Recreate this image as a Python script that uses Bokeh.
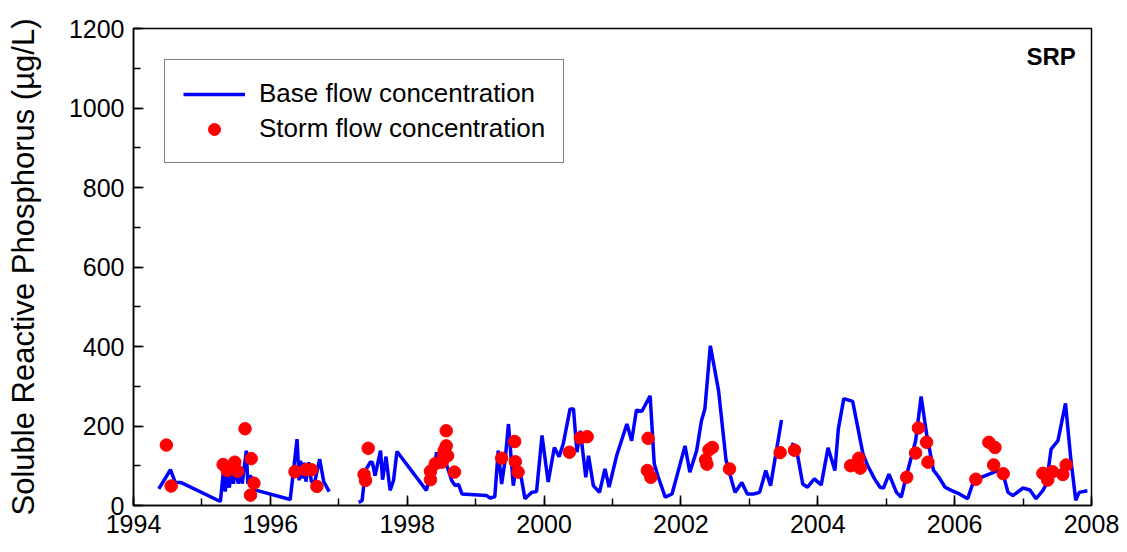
import numpy as np
from bokeh.plotting import figure
from bokeh.models import Range1d, SingleIntervalTicker, Legend, LegendItem, Label, ColumnDataSource
from bokeh.embed import file_html
from bokeh.resources import INLINE

nan = float("nan")

# Base flow concentration (decimal year, µg/L); NaN marks gaps in the record
base_year = [
    1994.37, 1994.54, 1994.61, 1994.69, 1995.27, 1995.31, 1995.34, 1995.37, 1995.40, 1995.43,
    1995.46, 1995.50, 1995.53, 1995.56, 1995.59, 1995.62, 1995.65, 1995.67, 1995.70, 1995.73,
    1995.76, 1995.80, 1996.29, 1996.39, 1996.42, 1996.44, 1996.47, 1996.49, 1996.52, 1996.56,
    1996.60, 1996.65, 1996.72, 1996.78, 1996.86,
    1997.05,
    1997.29, 1997.34, 1997.39, 1997.46, 1997.49, 1997.53, 1997.61, 1997.64, 1997.69, 1997.75,
    1997.80, 1997.85, 1998.28, 1998.31, 1998.39, 1998.43, 1998.46, 1998.52, 1998.58, 1998.65,
    1998.70, 1998.75, 1998.80, 1999.16, 1999.21, 1999.28, 1999.33, 1999.38, 1999.43, 1999.48,
    1999.55, 1999.60, 1999.67, 1999.72, 1999.77, 1999.82, 1999.89, 1999.97, 2000.06, 2000.15,
    2000.22, 2000.28, 2000.38, 2000.43, 2000.48, 2000.53, 2000.61, 2000.65, 2000.72, 2000.81,
    2000.89, 2000.95, 2001.06, 2001.21, 2001.28, 2001.35, 2001.43, 2001.55, 2001.61, 2001.67,
    2001.77, 2001.87, 2002.06, 2002.13, 2002.23, 2002.30, 2002.35, 2002.43, 2002.55, 2002.66,
    2002.79, 2002.89, 2002.97, 2003.06, 2003.15, 2003.24, 2003.31, 2003.47,
    2003.54,
    2003.61, 2003.68, 2003.78, 2003.85, 2003.95, 2004.05, 2004.15, 2004.25, 2004.30, 2004.38,
    2004.51, 2004.66, 2004.73, 2004.83, 2004.91, 2004.96, 2005.04, 2005.15, 2005.22, 2005.29,
    2005.43, 2005.51, 2005.59, 2005.69, 2005.77, 2005.86, 2005.95, 2006.07, 2006.19, 2006.28,
    2006.63, 2006.71, 2006.78, 2006.85, 2007.00, 2007.10, 2007.19, 2007.29, 2007.34, 2007.41,
    2007.51, 2007.62, 2007.70, 2007.77, 2007.82, 2007.94,
]
base_srp = [
    42, 90, 58, 58, 10, 80, 35, 78, 45, 85,
    55, 95, 55, 90, 55, 100, 138, 55, 75, 70,
    40, 38, 15, 167, 63, 113, 68, 108, 60, 109,
    60, 60, 117, 60, 35,
    nan,
    8, 12, 88, 109, 109, 75, 138, 65, 123, 38,
    63, 136, 38, 59, 88, 134, 95, 120, 100, 63,
    50, 53, 29, 25, 19, 22, 138, 54, 113, 205,
    50, 105, 67, 17, 25, 33, 35, 176, 59, 146,
    123, 155, 243, 243, 134, 188, 71, 125, 50, 33,
    92, 46, 125, 205, 163, 240, 237, 276, 105, 71,
    21, 29, 150, 84, 138, 213, 243, 402, 289, 113,
    33, 58, 29, 29, 33, 88, 50, 215,
    nan,
    155, 150, 54, 46, 67, 52, 145, 88, 192, 269,
    262, 130, 100, 67, 46, 44, 79, 33, 21, 71,
    163, 274, 180, 89, 71, 46, 38, 29, 17, 63,
    88, 78, 33, 25, 44, 39, 17, 38, 54, 142,
    163, 257, 113, 13, 33, 37,
]

# Storm flow concentration samples
storm_year = [
    1994.48, 1994.55, 1995.31, 1995.37, 1995.48, 1995.52, 1995.63, 1995.72, 1995.76, 1995.71,
    1996.36, 1996.52, 1996.60, 1996.68, 1997.43, 1997.37, 1997.39, 1998.34, 1998.34, 1998.41,
    1998.51, 1998.54, 1998.57, 1998.53, 1998.59, 1998.57, 1998.69, 1999.38, 1999.57, 1999.58,
    1999.62, 2000.37, 2000.53, 2000.63, 2001.52, 2001.51, 2001.56, 2002.36, 2002.38, 2002.41,
    2002.46, 2002.71, 2003.45, 2003.66, 2004.48, 2004.60, 2004.62, 2005.30, 2005.43, 2005.47,
    2005.59, 2005.61, 2006.31, 2006.50, 2006.59, 2006.57, 2006.71, 2007.29, 2007.36, 2007.43,
    2007.58, 2007.63,
]
storm_srp = [
    152, 49, 103, 88, 109, 86, 193, 118, 56, 26,
    85, 90, 90, 48, 144, 78, 63, 86, 65, 105,
    109, 138, 150, 125, 125, 188, 84, 119, 161, 110,
    84, 134, 170, 173, 169, 88, 71, 115, 104, 140,
    146, 92, 133, 139, 100, 119, 94, 71, 132, 195,
    159, 109, 66, 159, 146, 102, 80, 81, 64, 85,
    78, 102,
]

x_ticks_interval = 2
y_ticks_interval = 200
FONT = "Liberation Sans"

p = figure(width=1120, height=544, output_backend="svg", toolbar_location=None,
           x_range=Range1d(1994, 2008), y_range=Range1d(0, 1200),
           min_border_left=133, min_border_right=29, min_border_top=28, min_border_bottom=39)

p.xgrid.visible = False
p.ygrid.visible = False
p.outline_line_color = "black"
p.outline_line_width = 1.5
p.outline_line_alpha = 1.0
p.background_fill_color = "white"
p.border_fill_color = "white"

p.xaxis.ticker = SingleIntervalTicker(interval=x_ticks_interval, num_minor_ticks=2)
p.yaxis.ticker = SingleIntervalTicker(interval=y_ticks_interval, num_minor_ticks=2)

for ax in (p.xaxis[0], p.yaxis[0]):
    ax.axis_line_color = "black"
    ax.axis_line_width = 1.5
    ax.major_tick_in = 10
    ax.major_tick_out = 0
    ax.minor_tick_in = 7
    ax.minor_tick_out = 0
    ax.major_tick_line_color = "black"
    ax.minor_tick_line_color = "black"
    ax.major_tick_line_width = 1.5
    ax.minor_tick_line_width = 1.5
    ax.major_label_text_font = FONT
    ax.major_label_text_font_size = "25px"
    ax.major_label_text_color = "black"
    ax.major_label_standoff = 9

p.yaxis.axis_label = "Soluble Reactive Phosphorus (µg/L)"
p.yaxis.axis_label_text_font = FONT
p.yaxis.axis_label_text_font_size = "31px"
p.yaxis.axis_label_text_font_style = "normal"
p.yaxis.axis_label_text_color = "black"
p.yaxis.axis_label_standoff = 25

src_base = ColumnDataSource(dict(x=np.array(base_year, dtype=float), y=np.array(base_srp, dtype=float)))
src_storm = ColumnDataSource(dict(x=storm_year, y=storm_srp))

r_line = p.line("x", "y", source=src_base, line_color="#0000FF", line_width=3.5)
r_pts = p.scatter("x", "y", source=src_storm, size=12.5, fill_color="#FF0000", line_color="#FF0000")

legend = Legend(items=[LegendItem(label="Base flow concentration", renderers=[r_line]),
                       LegendItem(label="Storm flow concentration", renderers=[r_pts])],
                location="top_left", margin=31, padding=18, spacing=4,
                glyph_width=62, glyph_height=30, label_height=30, label_standoff=14,
                label_text_font=FONT, label_text_font_size="26px", label_text_color="black",
                border_line_color="black", border_line_width=1.5,
                background_fill_color="white", background_fill_alpha=1.0)
p.add_layout(legend)

p.add_layout(Label(x=2007.77, y=1130, text="SRP", text_align="right", text_baseline="middle",
                   text_font=FONT, text_font_size="24px", text_font_style="bold", text_color="black"))

open("out.html", "w").write(file_html(p, INLINE))
